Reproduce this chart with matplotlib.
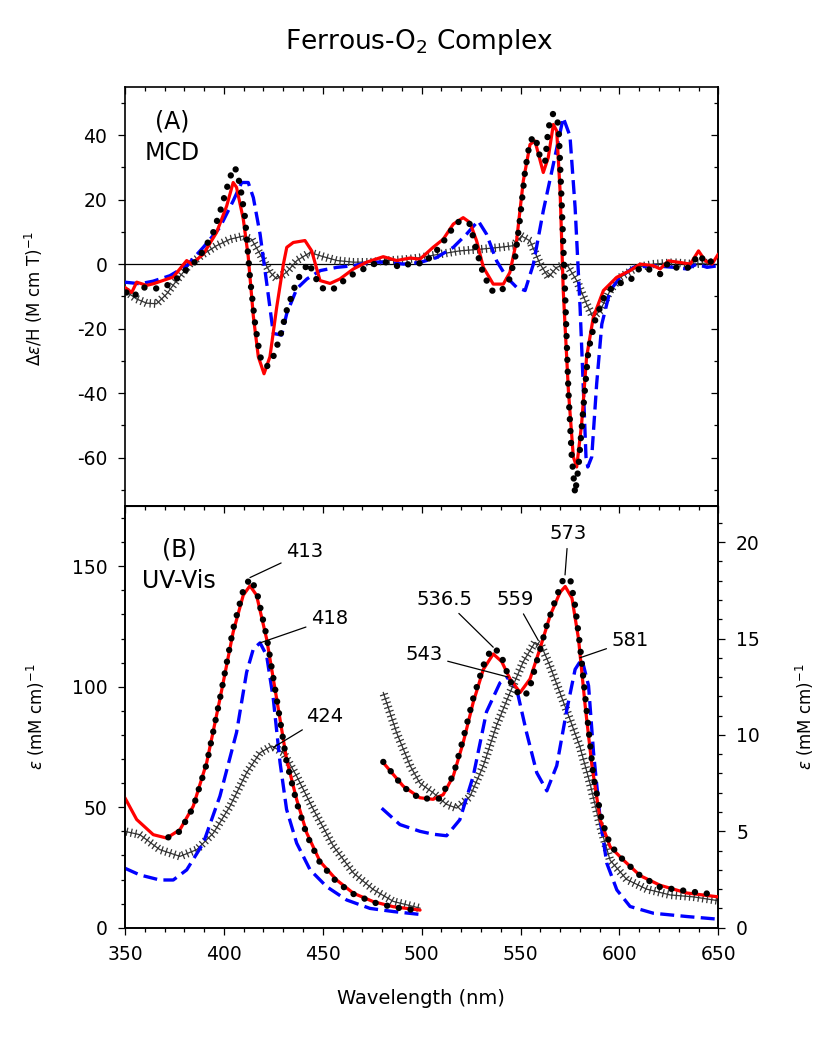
import matplotlib
matplotlib.use("Agg")
import matplotlib.pyplot as plt
import matplotlib.patheffects as pe
from matplotlib.ticker import MultipleLocator
import numpy as np

plt.rcParams['font.family'] = ['DejaVu Sans']
plt.rcParams['axes.unicode_minus'] = False

# ---------------- (A) MCD data, x = wavelength (nm), y = de/H ----------------
mcd_red_wl = [349.9, 353.4, 355.9, 360.9, 364.3, 374.4, 381.2, 383.7, 389.6, 396.3,
              401.4, 404.7, 406.4, 409.8, 412.3, 414.9, 417.4, 420.3, 423.3, 426.7,
              430.1, 431.8, 435.1, 441.0, 444.4, 448.6, 453.7, 458.7, 465.5, 472.2,
              480.6, 487.4, 494.2, 499.1, 505.8, 510.9, 516.0, 521.0, 524.4, 527.8,
              531.2, 536.2, 541.3, 544.6, 548.0, 551.4, 554.8, 557.3, 561.5, 564.0,
              566.6, 568.3, 570.0, 571.6, 574.2, 576.7, 578.4, 580.9, 583.4, 586.8,
              591.9, 598.6, 605.4, 610.5, 617.2, 620.6, 624.8, 630.7, 635.8, 640.0,
              643.4, 646.8, 650.0]
mcd_red = [-7.2, -8.8, -5.6, -6.6, -6.1, -4.0, 1.1, 0.0, 3.1, 9.8,
           18.0, 25.3, 23.8, 14.0, 2.4, -16.2, -28.7, -34.0, -28.7, -13.4,
           0.0, 5.2, 6.7, 7.3, 4.1, -5.1, -6.0, -4.6, -1.5, 0.6,
           2.3, 1.1, 1.9, 1.5, 5.2, 7.7, 12.4, 14.4, 12.9, 7.2,
           -1.0, -6.2, -6.2, -2.6, 7.2, 25.8, 37.1, 38.2, 28.4, 33.0,
           43.3, 41.3, 22.7, -8.2, -39.2, -59.8, -62.9, -49.5, -28.8, -16.5,
           -8.2, -4.1, -2.0, 0.0, -0.5, -1.5, 1.0, 0.5, 0.0, 4.1,
           1.0, 0.0, 3.1]

mcd_blk_wl = [350.7, 354.0, 359.1, 364.2, 369.3, 374.4, 379.4, 384.5, 389.6, 394.6,
              398.8, 403.1, 405.6, 408.1, 410.7, 413.2, 415.8, 418.3, 421.7, 425.0,
              428.4, 431.8, 436.9, 442.9, 445.4, 448.8, 453.0, 457.2, 462.3, 469.0,
              475.8, 482.5, 489.3, 496.0, 500.8, 507.5, 512.6, 517.6, 521.0, 524.4,
              527.8, 531.2, 535.4, 539.6, 543.9, 547.3, 549.8, 552.3, 554.8, 557.4,
              559.9, 562.4, 564.1, 566.6, 569.2, 570.9, 572.5, 574.2, 575.9, 577.6,
              579.3, 581.8, 584.3, 587.7, 592.8, 598.6, 605.4, 610.5, 617.2, 620.6,
              624.8, 629.9, 635.8, 640.0, 644.3, 649.3]
mcd_blk = [-8.8, -10.3, -7.2, -7.7, -7.2, -5.6, -2.6, 0.0, 4.1, 9.8,
           17.7, 27.0, 30.1, 24.8, 14.4, -4.2, -18.6, -28.7, -31.8, -28.7,
           -22.6, -14.3, -5.1, 0.5, -3.0, -7.2, -8.2, -7.2, -4.1, -2.0,
           0.0, 0.6, -1.0, 0.6, 0.0, 4.1, 8.3, 12.9, 13.4, 12.4,
           4.1, -3.1, -8.2, -8.7, -5.7, 2.1, 14.4, 28.9, 38.2, 39.7,
           33.0, 31.5, 42.3, 46.9, 43.3, 17.5, -8.2, -39.2, -59.8, -71.2,
           -62.9, -44.3, -26.8, -17.5, -9.3, -6.2, -5.1, -1.0, -2.0, -3.1,
           0.5, -1.5, -1.0, 3.1, 0.0, 2.1]

mcd_blue_wl = [349.9, 357.5, 364.2, 372.7, 381.2, 389.6, 398.0, 404.7, 409.0, 412.3,
               414.9, 418.3, 421.7, 425.0, 429.2, 431.8, 436.9, 442.0, 448.8, 457.2,
               465.5, 474.0, 482.4, 490.8, 499.1, 507.5, 516.0, 522.7, 528.6, 532.8,
               537.9, 543.0, 548.0, 552.3, 556.5, 561.5, 566.6, 571.6, 575.0, 577.6,
               580.1, 581.8, 583.1, 584.0, 586.0, 588.5, 591.1, 595.3, 600.4, 607.1,
               617.2, 627.4, 634.1, 639.2, 644.3, 650.0]
mcd_blue = [-5.6, -6.1, -5.3, -3.6, -0.5, 5.2, 11.4, 19.6, 25.3, 25.3,
            20.6, 9.3, -6.1, -21.5, -22.0, -15.3, -7.6, -4.6, -2.0, -1.0,
            -0.5, 0.6, 0.6, 0.0, 0.5, 2.0, 5.2, 9.3, 13.4, 9.3,
            1.0, -4.1, -7.2, -8.2, 0.0, 16.5, 31.0, 45.4, 39.7, 17.5,
            -13.3, -39.2, -59.8, -62.9, -59.8, -37.1, -18.6, -8.2, -4.1, -1.0,
            -0.5, -1.0, -1.5, 0.0, -1.0, -0.5]

mcd_gray_wl = [349.9, 355.8, 360.9, 366.0, 371.0, 376.1, 382.8, 389.6, 396.3, 403.1,
               409.8, 414.0, 418.3, 423.3, 426.7, 431.8, 436.9, 443.6, 448.6, 457.2,
               465.5, 474.0, 482.4, 492.5, 499.1, 509.2, 519.3, 529.4, 539.6, 546.3,
               550.5, 554.8, 559.9, 564.1, 568.3, 573.3, 578.4, 583.4, 586.8, 590.2,
               595.3, 600.4, 608.8, 617.2, 627.4, 637.5, 647.6]
mcd_gray = [-8.2, -10.8, -12.1, -12.3, -9.3, -5.1, 0.0, 3.1, 5.7, 7.7,
            8.7, 7.7, 3.1, -2.5, -4.6, -2.5, 1.1, 3.6, 2.6, 1.1,
            0.6, 0.6, 1.1, 1.5, 2.0, 3.1, 4.1, 4.6, 5.2, 5.7,
            8.7, 7.2, 0.0, -4.1, -1.0, 0.0, -5.1, -12.4, -16.5, -14.4,
            -8.2, -4.1, -1.0, 0.0, 0.5, 0.0, 0.5]

# ---------------- (B) UV-Vis, Soret region (left axis, mM^-1 cm^-1) ----------------
uv_red_wl = [349.9, 355.9, 364.3, 371.1, 377.8, 384.5, 391.3, 398.0, 404.7, 409.8,
             413.2, 416.5, 421.6, 426.7, 431.7, 436.8, 441.9, 448.6, 457.0, 465.5,
             475.6, 485.7, 499.2]
uv_red = [54.0, 44.9, 38.6, 37.2, 40.7, 50.4, 68.5, 94.9, 122.7, 138.0,
          141.9, 138.0, 119.9, 94.9, 69.9, 53.2, 39.3, 27.5, 19.8, 14.3,
          10.8, 8.7, 7.3]

uv_blk_wl = [371.9, 377.8, 384.5, 391.3, 398.0, 404.7, 409.8, 413.2, 416.5, 421.6,
             426.7, 431.7, 436.8, 441.9, 448.6, 457.0, 465.5, 475.6, 485.7, 499.2]
uv_blk = [37.5, 40.0, 50.0, 68.0, 95.0, 124.0, 140.0, 145.0, 140.0, 121.0,
          95.0, 69.0, 52.0, 38.5, 27.0, 19.0, 14.0, 10.5, 8.5, 7.0]

uv_blue_wl = [349.9, 357.5, 367.6, 374.4, 381.2, 389.6, 398.0, 406.4, 411.5, 414.9,
              418.3, 421.6, 425.0, 428.4, 431.7, 436.8, 443.6, 452.0, 462.1, 473.9,
              485.7, 499.2]
uv_blue = [24.7, 21.9, 19.8, 19.8, 24.0, 35.1, 54.6, 81.0, 106.0, 115.7,
           118.2, 113.0, 94.9, 68.5, 49.1, 35.1, 24.0, 17.0, 11.5, 8.0,
           6.7, 5.5]

uv_gray_wl = [349.9, 357.5, 367.6, 377.8, 386.3, 394.7, 403.1, 411.5, 418.3, 424.2,
              430.1, 436.8, 445.3, 455.4, 465.5, 475.6, 485.7, 495.8, 499.2]
uv_gray = [40.0, 38.6, 32.4, 29.6, 32.4, 39.3, 50.4, 64.3, 72.6, 75.4,
           72.6, 62.9, 49.0, 33.8, 22.7, 15.8, 10.9, 8.8, 8.1]

# ---------------- (B) UV-Vis, visible region (right axis, x8 scale) ----------------
vis_red_wl = [480.6, 490.7, 499.1, 505.8, 510.9, 516.0, 521.0, 526.1, 531.2, 536.2,
              540.5, 544.7, 549.8, 554.8, 559.9, 565.0, 570.0, 572.6, 576.0, 579.3,
              582.7, 586.1, 590.3, 595.3, 602.1, 610.5, 620.6, 634.1, 650.0]
vis_red = [8.56, 7.34, 6.74, 6.66, 6.9, 7.87, 9.6, 11.7, 13.4, 14.2,
           13.8, 12.9, 12.2, 12.9, 14.5, 16.2, 17.4, 17.7, 17.1, 15.0,
           11.5, 8.4, 5.6, 4.2, 3.5, 2.7, 2.2, 1.8, 1.6]

vis_blk_wl = [480.6, 490.7, 499.1, 509.0, 516.0, 521.0, 526.1, 531.2, 535.4, 539.6,
              544.7, 549.8, 554.0, 558.2, 563.3, 568.3, 571.7, 575.1, 577.6, 580.1,
              583.5, 586.8, 591.0, 595.3, 602.0, 610.5, 620.6, 634.0, 650.0]
vis_blk = [8.6, 7.3, 6.7, 6.7, 7.9, 9.8, 11.9, 13.6, 14.5, 14.3,
           12.8, 12.0, 12.2, 13.8, 15.7, 17.2, 18.1, 18.1, 16.7, 14.6,
           11.2, 7.9, 5.6, 4.3, 3.5, 2.7, 2.1, 1.9, 1.7]

vis_blue_wl = [479.8, 489.0, 499.1, 505.8, 512.6, 519.3, 526.1, 532.8, 539.6, 543.8,
               548.0, 553.1, 558.2, 563.3, 568.3, 573.4, 577.6, 581.0, 584.4, 586.9,
               590.3, 593.6, 598.7, 605.4, 617.2, 634.1, 650.0]
vis_blue = [6.2, 5.35, 5.0, 4.85, 4.77, 5.6, 7.87, 11.2, 12.7, 13.0,
            12.4, 10.1, 8.04, 7.1, 8.4, 11.3, 13.4, 13.95, 12.55, 9.1,
            5.6, 3.35, 1.96, 1.1, 0.75, 0.58, 0.44]

vis_gray_wl = [480.6, 487.4, 494.2, 499.1, 505.8, 512.6, 517.7, 524.4, 531.2, 537.9,
               544.7, 551.4, 557.3, 560.6, 564.8, 569.9, 575.0, 580.0, 585.1, 590.2,
               595.3, 603.7, 613.8, 625.6, 637.4, 650.0]
vis_gray = [12.2, 10.1, 8.4, 7.5, 7.0, 6.4, 6.2, 6.8, 8.4, 10.5,
            12.2, 13.8, 14.8, 14.6, 13.6, 12.2, 10.8, 9.4, 7.5, 5.3,
            3.5, 2.5, 2.0, 1.7, 1.6, 1.4]

# peak labels: (text, peak wl, peak value, text wl, text value)
soret_labels = [("413", 413.2, 145.3, 441.0, 156.0),
                ("418", 418.3, 118.2, 453.6, 128.2),
                ("424", 425.0, 74.8, 451.1, 87.8)]
vis_labels = [("573", 572.5, 18.3, 574.1, 20.45),
              ("536.5", 536.2, 14.55, 511.5, 17.04),
              ("559", 559.0, 14.9, 547.3, 17.04),
              ("543", 543.8, 13.0, 501.0, 14.15),
              ("581", 580.0, 14.0, 605.6, 14.9)]

# ---------------- styles ----------------
RED = dict(color='red', lw=2.3, solid_capstyle='round', zorder=4)
BLUE = dict(color='blue', lw=2.4, linestyle=(0, (4.2, 1.9)), zorder=3)
BLACK = dict(color='black', lw=4.6, linestyle=(0, (0.01, 1.85)),
             dash_capstyle='round', zorder=5)
GRAY_FX = [pe.withTickedStroke(angle=90, spacing=3.2, length=0.8, linewidth=0.9),
           pe.TickedStroke(angle=-90, spacing=3.2, length=0.8, linewidth=0.9)]
GRAY = dict(color='#333333', lw=0.9, zorder=2, path_effects=GRAY_FX)

fig = plt.figure(figsize=(8.39, 10.5), dpi=100)
W, H = 839.0, 1050.0
x0, x1 = 125, 718.3
ax1 = fig.add_axes([x0 / W, 1 - 506 / H, (x1 - x0) / W, (506 - 86.7) / H])
ax3 = fig.add_axes([x0 / W, 1 - 927.7 / H, (x1 - x0) / W, (927.7 - 506) / H])
ax4 = ax3.twinx()

tick_kw = dict(labelsize=13.5, pad=8, width=0.9)

# ---- top panel ----
ax1.plot(mcd_gray_wl, mcd_gray, **GRAY)
ax1.plot(mcd_blue_wl, mcd_blue, **BLUE)
ax1.plot(mcd_red_wl, mcd_red, **RED)
ax1.plot(mcd_blk_wl, mcd_blk, **BLACK)
ax1.axhline(0, color='black', lw=0.9, zorder=1)
ax1.set_xlim(350, 650)
ax1.set_ylim(-75, 55)
ax1.xaxis.set_major_locator(MultipleLocator(50))
ax1.xaxis.set_minor_locator(MultipleLocator(10))
ax1.yaxis.set_major_locator(MultipleLocator(20))
ax1.yaxis.set_minor_locator(MultipleLocator(10))
ax1.tick_params(axis='x', which='both', bottom=False, top=True, direction='in',
                labelbottom=False, **tick_kw)
ax1.tick_params(axis='y', which='both', left=True, right=False, direction='out', **tick_kw)
ax1.tick_params(which='major', length=4.8)
ax1.tick_params(which='minor', length=2.9, width=0.9)
sec = ax1.secondary_yaxis('right')
sec.yaxis.set_major_locator(MultipleLocator(20))
sec.yaxis.set_minor_locator(MultipleLocator(10))
sec.tick_params(which='both', direction='in', labelright=False, width=0.9)
sec.tick_params(which='major', length=4.8)
sec.tick_params(which='minor', length=2.9)
sec.spines['right'].set_linewidth(1.2)

ax1.text(0.080, 0.918, '(A)', transform=ax1.transAxes, fontsize=17, ha='center', va='center')
ax1.text(0.033, 0.842, 'MCD', transform=ax1.transAxes, fontsize=17, ha='left', va='center')

# ---- bottom panel ----
ax3.plot(uv_gray_wl, uv_gray, **GRAY)
ax3.plot(uv_blue_wl, uv_blue, **BLUE)
ax3.plot(uv_red_wl, uv_red, **RED)
ax3.plot(uv_blk_wl, uv_blk, **BLACK)
ax4.plot(vis_gray_wl, vis_gray, **GRAY)
ax4.plot(vis_blue_wl, vis_blue, **BLUE)
ax4.plot(vis_red_wl, vis_red, **RED)
ax4.plot(vis_blk_wl, vis_blk, **BLACK)

ax3.set_xlim(350, 650)
ax3.set_ylim(0, 175)
ax4.set_ylim(0, 175 / 8)
ax3.xaxis.set_major_locator(MultipleLocator(50))
ax3.xaxis.set_minor_locator(MultipleLocator(10))
ax3.yaxis.set_major_locator(MultipleLocator(50))
ax3.yaxis.set_minor_locator(MultipleLocator(10))
ax4.yaxis.set_major_locator(MultipleLocator(5))
ax4.yaxis.set_minor_locator(MultipleLocator(1))
ax3.tick_params(which='both', direction='out', top=False, right=False, **tick_kw)
ax3.tick_params(which='major', length=4.8)
ax3.tick_params(which='minor', length=2.9, width=0.9)
ax4.tick_params(which='both', direction='out', **tick_kw)
ax4.tick_params(which='major', length=4.8)
ax4.tick_params(which='minor', length=2.9, width=0.9)
secx = ax3.secondary_xaxis('top')
secx.xaxis.set_major_locator(MultipleLocator(50))
secx.xaxis.set_minor_locator(MultipleLocator(10))
secx.tick_params(which='both', direction='in', labeltop=False, width=0.9)
secx.tick_params(which='major', length=4.8)
secx.tick_params(which='minor', length=2.9)

for ax in (ax1, ax3, ax4):
    for s in ax.spines.values():
        s.set_linewidth(1.2)

ax3.text(0.092, 0.896, '(B)', transform=ax3.transAxes, fontsize=17, ha='center', va='center')
ax3.text(0.028, 0.822, 'UV-Vis', transform=ax3.transAxes, fontsize=17, ha='left', va='center')

line_kw = dict(arrowstyle='-', color='black', lw=0.9, shrinkA=2, shrinkB=0)
for txt, px, py, tx, ty in soret_labels:
    ax3.annotate(txt, xy=(px, py), xytext=(tx, ty), fontsize=14, ha='center',
                 va='center', arrowprops=line_kw, zorder=6)
for txt, px, py, tx, ty in vis_labels:
    ax4.annotate(txt, xy=(px, py), xytext=(tx, ty), fontsize=14, ha='center',
                 va='center', arrowprops=line_kw, zorder=6)

# ---- labels ----
fig.text(419 / W, 1 - 42 / H, 'Ferrous-O$_2$ Complex', fontsize=19, ha='center', va='center')
fig.text(421 / W, 1 - 998 / H, 'Wavelength (nm)', fontsize=14, ha='center', va='center')
fig.text(34 / W, 1 - 298 / H, r'$\Delta\epsilon$/H (M cm T)$^{-1}$', fontsize=12,
         rotation=90, ha='center', va='center')
fig.text(36 / W, 1 - 717 / H, r'$\epsilon$ (mM cm)$^{-1}$', fontsize=12,
         rotation=90, ha='center', va='center')
fig.text(805 / W, 1 - 717 / H, r'$\epsilon$ (mM cm)$^{-1}$', fontsize=12,
         rotation=90, ha='center', va='center')

fig.savefig('out.png', dpi=100)
